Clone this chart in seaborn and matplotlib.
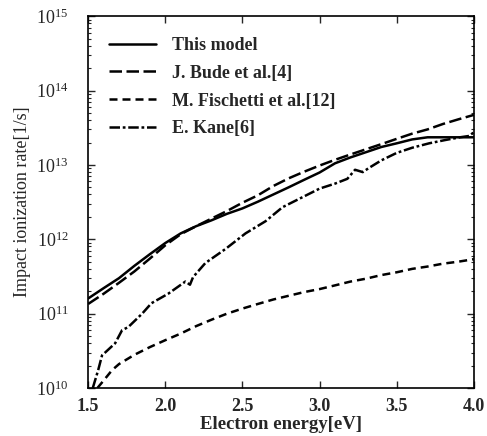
import matplotlib
matplotlib.use("Agg")
import matplotlib.pyplot as plt
import seaborn as sns
import pandas as pd
from matplotlib.ticker import LogLocator, NullFormatter

# Datos (energia en eV, tasa en 1/s)
x_modelo = [1.5, 1.6, 1.7, 1.8, 1.9, 2.0, 2.1, 2.2, 2.3, 2.4, 2.5, 2.6, 2.7,
            2.8, 2.9, 3.0, 3.1, 3.2, 3.3, 3.4, 3.5, 3.6, 3.7, 3.8, 3.9, 4.0]
y_modelo = [1.6e11, 2.2e11, 3.0e11, 4.4e11, 6.3e11, 8.9e11, 1.2e12, 1.5e12,
            1.8e12, 2.2e12, 2.6e12, 3.2e12, 4.0e12, 5.0e12, 6.3e12, 7.9e12,
            1.05e13, 1.26e13, 1.48e13, 1.74e13, 1.95e13, 2.2e13, 2.35e13,
            2.35e13, 2.35e13, 2.35e13]

x_bude = [1.5, 1.6, 1.7, 1.8, 1.9, 2.0, 2.1, 2.2, 2.3, 2.4, 2.5, 2.6, 2.7,
          2.8, 2.9, 3.0, 3.1, 3.2, 3.3, 3.4, 3.5, 3.6, 3.7, 3.8, 3.9, 4.0]
y_bude = [1.35e11, 1.85e11, 2.6e11, 3.7e11, 5.5e11, 8.3e11, 1.17e12, 1.5e12,
          1.9e12, 2.4e12, 3.1e12, 3.9e12, 5.2e12, 6.6e12, 8.1e12, 9.8e12,
          1.17e13, 1.38e13, 1.62e13, 1.9e13, 2.24e13, 2.63e13, 3.0e13,
          3.55e13, 4.1e13, 4.7e13]

x_fischetti = [1.56, 1.6, 1.655, 1.7, 1.8, 1.9, 2.0, 2.1, 2.2, 2.3, 2.4, 2.5,
               2.6, 2.7, 2.8, 2.9, 3.0, 3.1, 3.2, 3.3, 3.4, 3.5, 3.6, 3.7,
               3.8, 3.9, 4.0]
y_fischetti = [1.0e10, 1.26e10, 1.74e10, 2.1e10, 2.8e10, 3.55e10, 4.4e10,
               5.4e10, 6.8e10, 8.3e10, 1.0e11, 1.17e11, 1.35e11, 1.55e11,
               1.74e11, 1.95e11, 2.14e11, 2.4e11, 2.7e11, 2.95e11, 3.3e11,
               3.6e11, 4.0e11, 4.3e11, 4.7e11, 5.0e11, 5.4e11]

x_kane = [1.53, 1.565, 1.59, 1.61, 1.675, 1.72, 1.76, 1.85, 1.91, 2.02, 2.13,
          2.16, 2.18, 2.26, 2.39, 2.52, 2.65, 2.76, 2.88, 3.0, 3.1, 3.18,
          3.23, 3.28, 3.32, 3.4, 3.5, 3.6, 3.71, 3.81, 3.91, 3.97, 4.0]
y_kane = [1.0e10, 1.74e10, 2.75e10, 3.0e10, 4.0e10, 6.0e10, 6.6e10, 1.0e11,
          1.38e11, 1.86e11, 2.7e11, 2.45e11, 3.1e11, 4.8e11, 7.4e11, 1.2e12,
          1.75e12, 2.7e12, 3.6e12, 4.8e12, 5.6e12, 6.5e12, 8.6e12, 8.0e12,
          9.1e12, 1.15e13, 1.45e13, 1.7e13, 1.95e13, 2.15e13, 2.35e13,
          2.45e13, 2.75e13]

etiquetas = ["This model", "J. Bude et al.[4]", "M. Fischetti et al.[12]", "E. Kane[6]"]
estilos = ["-", (0, (5, 1.8)), (0, (3.2, 2)), (0, (4.2, 1.1, 1.1, 1.1))]

sns.set_style("ticks")
plt.rcParams["font.family"] = ["Liberation Serif", "DejaVu Serif"]
plt.rcParams["mathtext.fontset"] = "custom"
plt.rcParams["mathtext.rm"] = "Liberation Serif:bold"
plt.rcParams["mathtext.it"] = "Liberation Serif:bold"
plt.rcParams["mathtext.bf"] = "Liberation Serif:bold"

fig = plt.figure(figsize=(4.87, 4.36), dpi=100)
ax = fig.add_axes([0.181, 0.110, 0.792, 0.853])

series = [(x_modelo, y_modelo), (x_bude, y_bude), (x_fischetti, y_fischetti), (x_kane, y_kane)]
for (xs, ys), lab, ls in zip(series, etiquetas, estilos):
    df = pd.DataFrame({"x": xs, "y": ys})
    sns.lineplot(data=df, x="x", y="y", ax=ax, color="black", linewidth=1.8,
                 linestyle=ls, label=lab, sort=False)

ax.set_yscale("log")
ax.set_xlim(1.5, 4.0)
ax.set_ylim(1e10, 1e15)
ax.yaxis.set_major_locator(LogLocator(base=10, numticks=10))
ax.yaxis.set_minor_locator(LogLocator(base=10, subs=range(2, 10), numticks=50))
ax.yaxis.set_minor_formatter(NullFormatter())

ax.tick_params(which="both", direction="in", top=True, right=True)
ax.tick_params(which="major", length=5, width=1)
ax.tick_params(which="minor", length=2.5, width=0.8)
ax.tick_params(axis="x", labelsize=13, pad=7)
ax.tick_params(axis="y", labelsize=13, pad=14)
ax.set_xticks([1.5, 2.0, 2.5, 3.0, 3.5, 4.0])
ax.set_xticklabels(["1.5", "2.0", "2.5", "3.0", "3.5", "4.0"], fontweight="bold")

for s in ax.spines.values():
    s.set_linewidth(1.2)
    s.set_color("black")

ax.set_xlabel("Electron energy[eV]", fontsize=13.5, fontweight="bold", labelpad=1)
ax.set_ylabel("Impact ionization rate[1/s]", fontsize=13, labelpad=4)

leg = ax.legend(loc="upper left", frameon=False, handlelength=2.6,
                handletextpad=0.9, labelspacing=0.6, borderaxespad=0.75,
                prop={"weight": "bold", "size": 13})

fig.savefig("out.png", dpi=100)
